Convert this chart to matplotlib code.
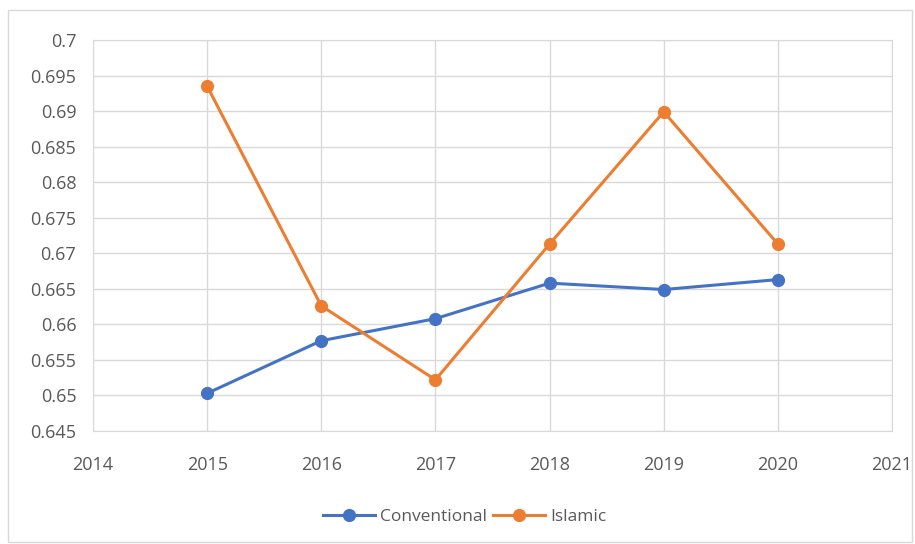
import matplotlib.pyplot as plt
from matplotlib.patches import Rectangle

years = [2015, 2016, 2017, 2018, 2019, 2020]
conventional = [0.6503, 0.6577, 0.6608, 0.6658, 0.6649, 0.6663]
islamic = [0.6935, 0.6626, 0.6522, 0.6713, 0.6899, 0.6713]

blue = '#4472C4'
orange = '#ED7D31'
grid = '#D9D9D9'
text = '#595959'

plt.rcParams['font.family'] = ['Open Sans', 'DejaVu Sans']

fig = plt.figure(figsize=(9.15, 5.44), dpi=100)
# light border round the whole chart area
fig.patches.append(Rectangle((8 / 915, 2 / 544), 904 / 915, 532 / 544,
                             transform=fig.transFigure, fill=False,
                             edgecolor='#D9D9D9', linewidth=1))

ax = fig.add_axes([93 / 915, 1 - 431 / 544, 799 / 915, 391 / 544])

ax.plot(years, conventional, color=blue, linewidth=2.2, marker='o',
        markersize=8.5, label='Conventional', zorder=3)
ax.plot(years, islamic, color=orange, linewidth=2.2, marker='o',
        markersize=8.5, label='Islamic', zorder=3)

ax.set_xlim(2014, 2021)
ax.set_ylim(0.645, 0.7)
ax.set_xticks(range(2014, 2022))
yt = [0.645 + 0.005 * i for i in range(12)]
ax.set_yticks(yt)
ax.set_yticklabels(['%g' % round(v, 3) for v in yt])

ax.grid(True, color=grid, linewidth=1)
ax.set_axisbelow(True)
for s in ax.spines.values():
    s.set_color(grid)
ax.tick_params(length=0, labelsize=13, colors=text)
ax.tick_params(axis='x', pad=18)
ax.tick_params(axis='y', pad=12)

ax.legend(loc='upper center', bbox_to_anchor=(0.465, -0.16), ncol=2,
          frameon=False, fontsize=12.5, labelcolor=text, handlelength=3,
          columnspacing=0.3, handletextpad=0.3)

fig.savefig('out.png', dpi=100)
